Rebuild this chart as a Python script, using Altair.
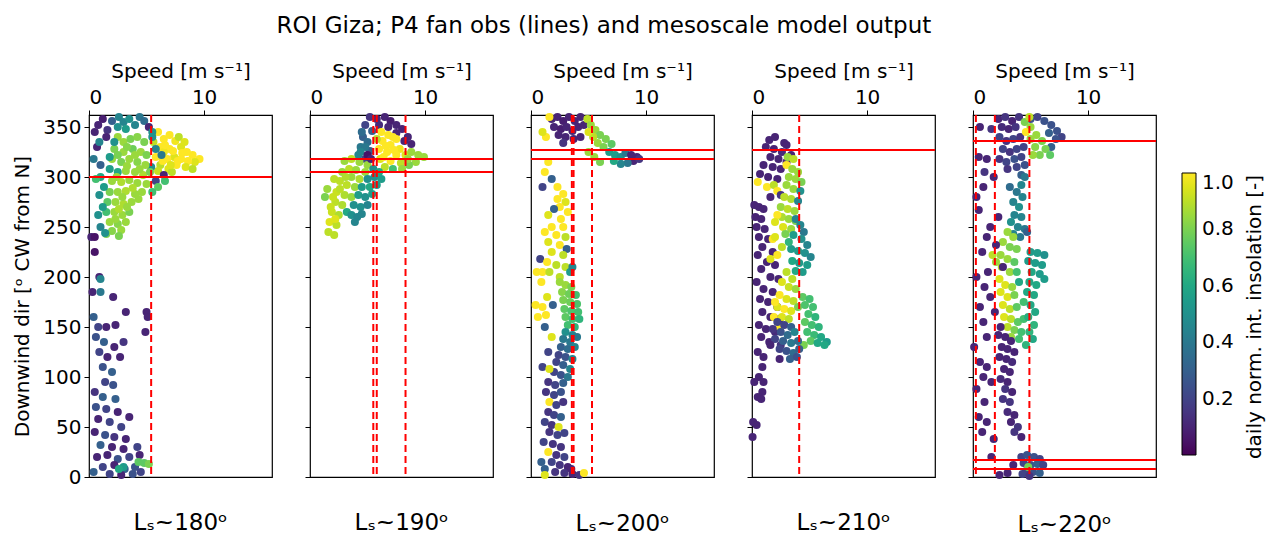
import altair as alt
import pandas as pd

FONT = "DejaVu Sans"
TITLE = "ROI Giza; P4 fan obs (lines) and mesoscale model output"
X_TITLE = "Speed [m s⁻¹]"
Y_TITLE = "Downwind dir [ᵒ CW from N]"
CBAR_TITLE = "daily norm. int. insolation [-]"
PANEL_LABELS = ["Lₛ~180ᵒ", "Lₛ~190ᵒ", "Lₛ~200ᵒ", "Lₛ~210ᵒ", "Lₛ~220ᵒ"]
X_TICKS = [0, 10]
Y_TICKS = [0, 50, 100, 150, 200, 250, 300, 350]
CBAR_TICKS = [0.2, 0.4, 0.6, 0.8, 1.0]

# observed fan speeds (dashed) and directions (solid) per panel
OBS_SPEED = [[5.4], [5.5, 5.8, 8.3], [3.55, 3.7, 5.3], [4.1], [0.25, 1.9, 4.9]]
OBS_DIR = [[300], [318, 305], [327, 318], [327], [336, 17, 8]]

# model output: (speed, direction, insolation)
P1 = [
    (0.8,352,0.1),(1.2,358,0.08),(0.5,345,0.1),(1.6,347,0.15),(2.0,356,0.3),(2.6,360,0.45),(3.0,355,0.45),
    (3.5,358,0.5),(4.0,352,0.45),(4.4,360,0.4),(3.2,348,0.55),(2.5,350,0.5),(4.8,356,0.35),(5.2,350,0.1),
    (1.5,340,0.1),(0.7,330,0.1),(0.4,318,0.4),(1.0,312,0.3),(0.9,335,0.45),
    (6.0,345,1.0),(6.5,338,1.0),(7.0,342,1.0),(7.5,336,0.98),(6.2,330,1.0),(7.0,328,1.0),(8.0,330,0.95),
    (8.5,325,1.0),(9.0,322,1.0),(9.6,318,1.0),(9.2,315,0.95),(8.6,316,1.0),(8.0,318,1.0),(7.4,320,0.95),
    (6.8,318,1.0),(7.6,312,1.0),(6.9,308,0.95),(6.2,312,0.9),(5.8,320,1.0),(6.5,325,0.98),(7.8,340,0.9),
    (8.3,335,0.95),(5.6,335,0.9),(7.2,305,0.9),(8.4,310,0.95),(9.0,308,0.9),
    (6.6,332,1.0),(7.3,326,1.0),(8.1,324,1.0),(7.7,316,1.0),(6.4,316,1.0),(7.1,312,0.95),(6.0,306,0.92),
    (5.5,345,0.5),(5.5,340,0.5),(5.8,328,0.45),(6.3,322,0.4),(5.4,310,0.5),(6.5,302,0.1),(5.8,296,0.2),(6.6,296,0.7),
    (6.0,290,0.75),(5.5,285,0.7),
    (2.5,340,0.85),(3.0,335,0.85),(3.6,338,0.8),(4.2,340,0.82),(4.8,335,0.8),(2.2,328,0.8),(3.0,325,0.85),
    (3.8,328,0.78),(4.5,325,0.85),(5.0,322,0.8),(2.0,318,0.85),(2.8,315,0.8),(3.5,318,0.85),(4.2,315,0.82),
    (4.9,312,0.85),(1.8,308,0.55),(2.5,305,0.6),(3.2,306,0.85),(4.0,305,0.85),(4.7,302,0.88),(5.3,305,0.8),
    (2.0,296,0.85),(2.8,295,0.88),(3.5,297,0.85),(4.2,294,0.85),(5.0,293,0.85),(1.8,285,0.8),(2.5,285,0.85),
    (3.2,286,0.88),(4.0,283,0.85),(4.6,285,0.85),(1.6,275,0.75),(2.3,275,0.85),(3.0,273,0.88),(3.7,275,0.85),
    (1.5,265,0.7),(2.2,265,0.85),(2.9,262,0.85),(3.5,265,0.8),(1.8,255,0.85),(2.5,253,0.82),(3.2,255,0.85),
    (2.0,246,0.82),(2.8,247,0.85),(1.5,243,0.8),
    (3.3,330,0.82),(4.0,322,0.85),(2.5,322,0.8),(3.3,311,0.85),(4.4,308,0.85),(2.4,300,0.85),(3.8,289,0.88),
    (2.9,280,0.85),(4.3,278,0.85),(2.6,268,0.88),(3.3,270,0.85),(2.3,258,0.85),(2.6,241,0.8),
    (1.0,300,0.6),(1.3,290,0.55),(0.9,282,0.5),(1.2,270,0.55),(0.8,262,0.5),(1.0,250,0.45),(1.4,244,0.5),
    (0.6,298,0.7),(1.8,320,0.55),(2.2,335,0.5),
    (0.2,240,0.1),(0.5,240,0.05),(0.5,225,0.05),(0.9,200,0.1),(1.0,198,0.45),(0.3,185,0.1),(1.0,185,0.4),
    (2.1,180,0.1),(0.4,160,0.3),(3.2,165,0.1),(5.0,165,0.1),(5.1,160,0.1),(4.9,145,0.1),(0.8,150,0.2),
    (1.5,150,0.1),(2.3,152,0.1),(0.6,140,0.25),(1.3,135,0.3),(2.2,130,0.1),(3.0,135,0.15),(0.9,125,0.2),
    (1.6,120,0.1),(2.7,120,0.1),(1.2,110,0.25),(2.0,105,0.3),(1.4,95,0.2),(2.1,92,0.25),(0.5,85,0.15),
    (1.2,80,0.3),(2.3,78,0.3),(0.6,70,0.25),(1.5,68,0.2),(2.5,65,0.1),(3.5,60,0.1),(0.8,58,0.1),(1.8,55,0.2),
    (2.8,50,0.2),(0.5,45,0.1),(1.4,42,0.25),(2.2,40,0.15),(3.2,38,0.1),(1.0,32,0.3),(2.0,30,0.1),(3.0,28,0.1),
    (4.2,30,0.2),(0.7,20,0.1),(1.6,22,0.1),(2.5,18,0.25),(3.5,20,0.2),(4.4,22,0.1),(1.2,10,0.2),(2.2,12,0.1),
    (3.1,8,0.3),(4.0,10,0.25),(0.4,5,0.3),(1.8,3,0.2),(2.8,2,0.1),(3.8,3,0.25),(4.5,5,0.2),
    (4.3,15,0.75),(4.8,14,0.75),(5.2,13,0.8),(3.0,10,0.55),(2.6,8,0.6),
]
P2 = [
    (5.2,360,0.15),(5.8,358,0.1),(6.5,360,0.1),(7.0,356,0.08),(7.5,352,0.1),(8.0,348,0.1),(8.5,340,0.1),
    (8.8,333,0.1),(6.0,352,0.12),(6.8,350,0.1),(7.5,344,0.1),(8.2,336,0.1),(4.8,352,0.2),(5.4,346,0.3),
    (4.6,340,0.3),(5.0,335,0.35),(4.4,330,0.4),(5.2,326,0.3),(4.2,322,0.45),(4.8,318,0.2),
    (6.2,345,1.0),(6.8,342,1.0),(7.5,338,1.0),(6.3,336,1.0),(7.0,332,1.0),(7.8,328,0.98),(6.0,328,1.0),
    (6.7,325,1.0),(7.5,322,1.0),(8.3,322,0.95),(6.1,318,0.95),(7.0,316,1.0),(7.9,314,0.9),(6.5,310,0.9),
    (5.8,338,0.9),(6.6,331,1.0),(7.3,327,1.0),(6.4,320,1.0),(7.2,340,1.0),
    (8.8,325,0.85),(9.4,322,0.85),(9.9,320,0.85),(9.2,315,0.85),(8.6,312,0.8),(8.0,308,0.85),(3.0,316,0.85),
    (3.6,318,0.9),(4.3,315,0.85),(5.0,312,0.85),(3.4,308,0.9),(4.0,307,0.85),(4.8,305,0.85),(5.5,308,0.5),
    (6.0,305,0.6),(7.2,308,0.7),(2.8,305,0.85),(3.6,300,0.85),(4.3,298,0.88),(5.0,298,0.5),(2.6,296,0.9),
    (3.2,292,0.9),(3.9,290,0.85),(5.6,300,0.5),(6.2,298,0.55),(2.3,285,0.92),(3.0,282,0.88),(3.6,280,0.85),
    (2.2,275,0.9),(2.8,272,0.88),(1.9,265,0.92),(2.5,262,0.88),(3.2,265,0.6),(1.7,255,0.95),(2.3,252,0.9),
    (1.6,245,0.9),(2.1,242,0.9),(1.5,288,0.85),(1.3,280,0.8),
    (2.1,298,0.9),(3.1,300,0.88),(2.0,280,0.92),(2.6,288,0.9),(1.8,270,0.92),(2.2,258,0.95),(8.5,318,0.85),
    (4.5,290,0.55),(5.2,290,0.6),(5.8,292,0.55),(4.2,282,0.55),(4.8,280,0.5),(5.4,283,0.55),(3.8,272,0.5),
    (4.4,270,0.5),(5.0,272,0.45),(3.6,262,0.5),(4.1,260,0.45),(3.9,255,0.45),(4.5,263,0.45),
    (4.5,345,0.35),(4.8,330,0.4),(4.4,325,0.45),(5.0,322,0.05),(5.3,318,0.1),
]
P3 = [
    (1.8,358,0.1),(2.3,360,0.1),(2.8,356,0.08),(3.3,360,0.1),(3.8,356,0.1),(4.3,360,0.1),(2.0,350,0.1),
    (2.6,348,0.08),(3.1,350,0.1),(3.6,346,0.1),(4.1,350,0.1),(4.6,352,0.1),(2.4,342,0.1),(3.0,340,0.1),
    (3.7,338,0.1),(4.3,340,0.1),(2.8,334,0.15),(1.3,340,1.0),(1.0,345,0.95),(1.6,360,1.0),
    (4.9,358,0.9),(5.2,352,0.85),(5.6,347,0.85),(6.0,342,0.8),(6.5,338,0.8),(7.0,333,0.75),(5.4,340,0.9),
    (5.8,334,0.85),(6.3,330,0.8),(5.0,345,0.95),(5.0,325,0.85),(5.5,320,0.85),(6.0,315,0.8),(6.8,325,0.55),
    (7.3,322,0.55),(7.8,320,0.5),
    (8.2,324,0.4),(8.7,322,0.1),(9.2,320,0.1),(8.9,316,0.1),(8.4,314,0.4),(7.8,313,0.45),(7.2,316,0.6),
    (9.4,318,0.15),
    (1.5,315,1.0),(1.2,305,1.0),(1.8,298,0.3),(1.0,290,0.2),(2.3,290,1.0),(2.8,283,1.0),(2.3,278,1.0),
    (3.0,275,0.95),(2.5,270,1.0),(2.0,268,0.3),(3.2,265,1.0),(1.5,262,0.95),(2.6,258,1.0),(1.8,250,1.0),
    (2.8,250,1.0),(1.2,245,1.0),(2.2,242,1.0),(3.0,240,0.9),(1.5,235,0.95),(2.5,232,1.0),(3.1,228,0.3),
    (1.8,225,0.95),(2.8,222,0.9),(0.8,218,0.2),(1.4,215,1.0),(2.2,212,0.9),(3.0,210,0.9),(0.5,205,1.0),
    (1.0,205,1.0),(1.6,205,0.9),(2.5,200,0.9),(3.4,205,0.55),(0.9,195,1.0),(3.6,210,0.45),
    (2.5,195,0.85),(3.0,192,0.85),(3.5,190,0.8),(2.7,185,0.82),(3.3,183,0.78),(3.9,182,0.7),(2.8,177,0.8),
    (3.4,175,0.78),(4.0,173,0.72),(2.9,168,0.75),(3.5,166,0.72),(4.1,165,0.7),(3.0,160,0.75),(3.6,158,0.7),
    (4.2,158,0.65),(3.2,152,0.7),(3.8,150,0.65),(1.4,180,0.95),(1.0,170,1.0),(1.9,172,0.3),(1.3,162,1.0),
    (0.4,172,1.0),(0.6,160,1.0),
    (3.0,145,0.5),(3.6,142,0.45),(2.8,138,0.4),(3.4,135,0.4),(4.0,140,0.4),(2.6,130,0.3),(3.2,128,0.35),
    (3.8,130,0.45),(2.4,122,0.2),(3.0,120,0.25),(3.6,118,0.45),(2.2,115,0.2),(2.8,112,0.3),(3.4,108,0.45),
    (2.0,105,0.2),(2.6,102,0.25),(3.2,100,0.4),(1.8,140,0.95),(1.2,150,0.3),(1.5,125,0.2),(1.0,110,0.2),
    (1.6,108,0.95),
    (1.5,95,0.15),(2.1,92,0.2),(2.8,94,0.3),(1.3,85,0.15),(2.0,82,0.2),(2.6,85,0.25),(1.6,75,1.0),
    (2.2,72,0.2),(2.8,75,0.15),(1.5,65,0.15),(2.0,62,0.2),(2.6,60,0.3),(1.2,55,0.2),(1.8,52,0.15),
    (2.4,50,0.95),(1.6,45,0.15),(2.3,42,0.2),(2.9,44,0.2),(1.1,35,0.2),(1.9,33,0.15),(2.6,30,0.15),
    (1.5,25,1.0),(2.2,22,0.15),(2.9,20,0.2),(1.8,15,0.2),(2.5,12,0.15),(3.2,10,0.1),(1.2,8,0.3),(2.1,5,0.15),
    (2.9,4,0.15),(3.6,3,0.1),(4.2,2,0.15),(1.2,2,0.95),(0.9,15,0.3),(3.5,8,0.1),(4.6,4,1.0),
]
P4 = [
    (1.5,337,0.1),(2.0,340,0.1),(2.8,334,0.1),(3.0,332,0.1),(1.2,330,0.1),(1.9,328,0.1),(2.6,325,0.12),
    (3.4,322,0.1),(1.6,320,0.1),(2.3,318,0.1),(3.0,315,0.1),(1.0,312,0.1),(1.8,310,0.1),(2.5,308,0.1),
    (0.7,303,0.1),(1.4,300,0.1),(2.2,298,0.1),(0.5,295,1.0),(1.3,290,1.0),(1.9,292,0.9),(2.2,286,1.0),
    (2.5,282,0.15),(1.6,280,0.1),
    (3.1,320,0.85),(3.6,318,0.9),(3.0,312,1.0),(3.5,308,0.85),(4.0,305,0.85),(3.2,300,0.85),(3.8,298,0.85),
    (4.3,295,0.8),(3.0,292,0.85),(3.6,288,0.85),(4.2,286,0.5),(2.8,280,0.9),(3.4,278,0.88),(4.0,276,0.45),
    (2.5,270,0.85),(3.1,268,0.9),(3.7,266,0.85),(2.6,260,0.88),(3.2,258,0.85),(3.8,256,0.8),(2.7,250,0.95),
    (3.4,248,0.85),(2.2,262,1.0),(2.0,255,0.95),(2.9,243,0.8),
    (0.2,272,0.1),(0.6,270,0.1),(1.0,268,0.1),(0.3,260,0.1),(0.8,258,0.1),(0.4,250,0.1),(1.1,248,0.1),
    (0.6,240,0.1),(1.4,238,0.1),(0.9,230,0.1),(1.8,225,0.1),(0.5,222,0.1),(1.3,215,0.1),(2.0,212,0.1),
    (0.8,208,0.1),(1.6,200,0.1),(2.3,198,0.1),(0.4,195,0.1),(1.0,188,0.1),(1.8,185,0.1),(0.7,178,0.1),
    (1.4,175,0.1),(2.2,170,0.1),(0.9,165,0.1),(1.6,160,0.1),(2.4,158,0.1),(0.6,152,0.1),(1.2,148,0.1),
    (2.0,145,0.12),(0.8,140,0.1),(1.5,135,0.1),(2.5,132,0.15),(1.8,238,1.0),(2.2,222,1.0),(2.0,240,0.95),
    (2.6,230,0.9),(1.6,218,0.95),
    (3.8,258,0.45),(4.2,252,0.45),(4.5,245,0.4),(3.6,242,0.55),(4.3,238,0.5),(4.8,232,0.45),(3.4,228,0.55),
    (4.0,226,0.55),(4.6,224,0.5),(5.1,220,0.45),(3.5,216,0.6),(4.1,214,0.55),(4.8,212,0.55),(3.8,206,0.6),
    (4.4,205,0.55),(3.2,235,0.65),
    (3.0,205,0.9),(3.5,198,0.9),(2.6,195,0.95),(3.2,190,0.92),(3.8,188,0.85),(2.4,182,1.0),(3.0,178,0.95),
    (3.6,176,0.9),(2.2,170,0.95),(2.8,168,1.0),(3.4,166,0.95),(4.0,170,0.8),(2.6,160,0.95),(3.2,158,0.9),
    (2.0,175,1.0),(1.9,160,1.0),(2.4,150,1.0),
    (4.4,180,0.75),(5.0,178,0.7),(4.6,172,0.72),(5.3,170,0.7),(4.9,163,0.7),(5.5,160,0.65),(4.6,155,0.75),
    (5.2,152,0.7),(5.8,150,0.65),(4.8,145,0.7),(5.4,142,0.68),(6.0,140,0.6),(6.5,135,0.55),(5.1,136,0.75),
    (5.7,134,0.6),(6.3,132,0.6),(4.5,132,0.8),
    (2.2,155,0.2),(2.8,152,0.2),(3.4,150,0.3),(1.8,148,0.15),(2.5,145,0.25),(3.1,142,0.35),(3.7,145,0.45),
    (2.0,138,0.2),(2.7,136,0.3),(3.4,134,0.4),(4.0,136,0.35),(2.4,128,0.2),(3.0,126,0.25),(3.6,124,0.35),
    (4.1,128,0.3),(1.6,132,0.1),(3.3,118,0.3),(3.9,120,0.25),
    (0.5,125,0.1),(1.0,120,0.1),(2.4,118,0.1),(0.9,110,0.1),(0.6,100,0.1),(1.0,95,0.1),(0.2,95,0.1),
    (0.9,85,0.1),(0.5,80,0.1),(0.8,78,0.1),(0.1,55,0.1),(0.4,52,0.1),(0.05,40,0.1),
]
P5 = [
    (2.2,358,0.1),(2.8,360,0.15),(3.4,356,0.1),(4.0,360,0.15),(5.0,358,0.25),(5.6,360,0.2),(6.2,356,0.25),
    (6.8,352,0.25),(7.3,346,0.25),(7.7,340,0.2),(2.5,350,0.12),(3.1,348,0.1),(3.7,350,0.15),(6.6,344,0.3),
    (7.2,338,0.25),(2.3,340,0.2),(2.9,336,0.15),(3.5,338,0.2),(4.1,340,0.15),(2.6,328,0.2),(3.2,325,0.15),
    (3.8,328,0.2),(4.4,330,0.2),(6.8,330,0.3),(2.3,318,0.15),(2.9,315,0.2),(3.6,318,0.25),(4.2,320,0.2),
    (3.0,308,0.15),(3.8,310,0.2),(4.5,312,0.25),(4.2,302,0.3),(1.6,348,0.15),(1.0,305,0.15),(0.6,350,0.1),
    (1.2,318,0.1),(1.8,300,0.1),(0.3,280,0.1),(0.9,290,0.1),(0.5,267,0.1),
    (4.5,355,0.8),(5.0,350,0.85),(4.6,345,1.0),(5.5,342,0.85),(5.0,338,0.85),(6.0,336,0.8),(5.4,330,0.82),
    (6.3,328,0.8),(5.8,322,0.8),(6.7,322,0.75),(5.2,322,0.85),(4.9,360,0.9),
    (4.5,300,0.4),(4.2,292,0.45),(3.8,285,0.4),(4.3,280,0.45),(3.5,275,0.45),(4.0,270,0.5),(3.6,262,0.45),
    (4.2,260,0.45),(3.3,255,0.5),(3.9,250,0.45),(4.5,248,0.4),(3.5,243,0.45),(4.1,240,0.4),(4.7,245,0.3),
    (3.2,290,0.35),
    (3.0,245,0.85),(3.5,240,0.85),(2.6,235,0.85),(3.2,230,0.8),(3.8,228,0.8),(2.4,222,0.85),(3.0,218,0.85),
    (3.6,215,0.75),(2.5,210,0.9),(3.2,205,0.85),(3.8,205,0.7),(2.3,198,0.95),(2.8,192,0.95),(3.4,190,0.85),
    (4.0,195,0.6),(2.4,185,0.95),(3.0,180,0.95),(3.6,182,0.8),(2.6,172,0.95),(3.2,168,0.9),(3.8,170,0.75),
    (2.7,160,0.95),(3.3,158,0.9),(3.9,155,0.75),(3.0,150,0.9),(3.6,147,0.8),(4.2,145,0.7),(3.3,140,0.85),
    (4.0,138,0.7),(4.4,158,0.7),(4.4,175,0.7),(2.0,215,0.85),(1.7,222,0.9),
    (5.0,225,0.55),(5.6,224,0.55),(6.2,222,0.5),(4.8,216,0.55),(5.4,214,0.55),(6.0,212,0.55),(5.1,205,0.6),
    (5.8,203,0.55),(6.2,198,0.55),(4.9,195,0.6),(5.5,192,0.6),(4.7,185,0.6),(5.3,182,0.6),(5.0,172,0.6),
    (5.4,165,0.6),(4.8,160,0.62),(5.3,152,0.65),(4.9,145,0.65),(5.2,138,0.6),(4.6,132,0.65),
    (2.2,142,0.1),(2.8,140,0.1),(3.3,136,0.1),(2.5,130,0.1),(3.0,128,0.1),(3.6,125,0.1),(2.3,120,0.1),
    (2.9,118,0.1),(3.4,115,0.12),(2.7,108,0.1),(3.2,105,0.1),(2.4,98,0.12),(3.0,95,0.1),(2.8,88,0.15),
    (3.4,85,0.1),(2.6,78,0.15),(3.2,75,0.15),(3.0,65,0.12),(3.6,62,0.1),(3.3,55,0.1),(3.9,50,0.15),
    (3.6,45,0.15),(4.2,40,0.1),(1.2,110,0.1),(1.6,95,0.1),
    (0.3,200,0.1),(1.0,190,0.1),(1.5,180,0.1),(0.6,170,0.1),(1.9,165,0.1),(0.9,155,0.1),(1.2,140,0.1),
    (0.1,130,0.1),(0.6,115,0.1),(0.9,100,0.1),(0.3,88,0.1),(1.0,75,0.1),(0.5,60,0.1),(1.2,55,0.1),
    (0.8,45,0.1),(1.6,20,0.1),(1.8,38,0.1),(2.0,232,0.1),(1.2,240,0.1),(0.8,225,0.1),(2.2,260,0.1),
    (1.5,250,0.1),(2.6,210,0.1),(1.3,205,0.1),(2.4,150,0.1),(0.5,320,0.1),
    (4.2,20,0.2),(4.7,22,0.25),(5.3,20,0.25),(5.8,18,0.2),(4.4,14,0.2),(5.0,12,0.25),(5.6,13,0.3),
    (6.1,12,0.2),(4.6,6,0.2),(5.2,5,0.25),(5.8,4,0.3),(4.3,3,0.2),(4.9,1,0.15),(3.5,12,0.1),(2.3,2,0.1),
    (3.0,4,0.1),(4.8,10,0.8),
]
PANELS = [P1, P2, P3, P4, P5]

xs = alt.Scale(domain=[0, 15.9], nice=False, zero=False)
ys = alt.Scale(domain=[0, 362], nice=False, zero=False)
cs = alt.Scale(scheme="viridis", domain=[0, 1])
legend = alt.Legend(
    title=None, values=CBAR_TICKS, orient="none", legendX=1093, legendY=58,
    gradientLength=282, gradientThickness=14, gradientStrokeColor="black", gradientStrokeWidth=1,
    labelFontSize=20, labelFont=FONT, labelColor="black", labelOffset=6, format=".1f",
    direction="vertical",
)


def panel(i):
    df = pd.DataFrame(PANELS[i], columns=["speed", "dir", "ins"])
    first = i == 0
    xaxis = alt.Axis(orient="top", values=X_TICKS, title=X_TITLE, labelFontSize=20, titleFontSize=20,
                     titlePadding=6, labelPadding=3, grid=False, domain=False, tickSize=5)
    ykw = dict(values=Y_TICKS, labels=first, grid=False, domain=False, tickSize=5, labelFontSize=20,
               labelPadding=3)
    if first:
        yaxis = alt.Axis(title=Y_TITLE, titleFontSize=20, titlePadding=10, **ykw)
    else:
        yaxis = alt.Axis(title=None, **ykw)
    pts = alt.Chart(df).mark_circle(size=65, opacity=1).encode(
        x=alt.X("speed:Q", scale=xs, axis=xaxis),
        y=alt.Y("dir:Q", scale=ys, axis=yaxis),
        color=alt.Color("ins:Q", scale=cs, legend=legend),
    )
    vl = alt.Chart(pd.DataFrame({"speed": OBS_SPEED[i]})).mark_rule(
        color="#ff0000", strokeDash=[7, 4], strokeWidth=2).encode(
        x=alt.X("speed:Q", scale=xs, axis=xaxis))
    hl = alt.Chart(pd.DataFrame({"dir": OBS_DIR[i]})).mark_rule(
        color="#ff0000", strokeWidth=2).encode(
        y=alt.Y("dir:Q", scale=ys, axis=yaxis))
    layers = [pts, vl, hl]
    if i == 4:
        cbt = alt.Chart(pd.DataFrame({"t": [CBAR_TITLE]})).mark_text(
            angle=270, fontSize=20, font=FONT, color="black", align="center", baseline="middle").encode(
            text="t:N", x=alt.value(282), y=alt.value(202))
        layers.append(cbt)
    return alt.layer(*layers).properties(
        width=183, height=362,
        title=alt.TitleParams(PANEL_LABELS[i], orient="bottom", offset=25 if first else 34, fontSize=23,
                              font=FONT, fontWeight="normal", color="black"),
    )


chart = alt.hconcat(*[panel(i) for i in range(5)], spacing=29).properties(
    title=alt.TitleParams(TITLE, fontSize=23, font=FONT, fontWeight="normal", color="black",
                          anchor="middle", offset=22, dx=-35),
    padding={"left": 4, "top": 7, "right": 0, "bottom": 0},
).configure_view(stroke="black", strokeWidth=1.2).configure_axis(
    labelFont=FONT, titleFont=FONT, labelColor="black", titleColor="black", tickColor="black",
    titleFontWeight="normal",
)

chart.save("out.html", embed_options={"renderer": "svg", "actions": False})
